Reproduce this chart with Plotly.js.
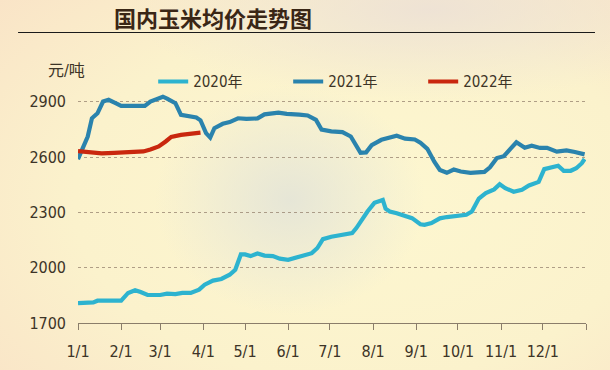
<!DOCTYPE html>
<html>
<head>
<meta charset="utf-8">
<script src="https://cdn.plot.ly/plotly-3.0.1.min.js"></script>
<style>
html,body{margin:0;padding:0;}
body{width:610px;height:370px;overflow:hidden;
background:
 radial-gradient(ellipse 135px 115px at 290px 200px, rgba(226,227,216,0.85) 0%, rgba(226,227,216,0) 100%),
 radial-gradient(ellipse 300px 90px at 430px 10px, rgba(236,224,214,0.85) 0%, rgba(236,224,214,0) 100%),
 radial-gradient(ellipse 520px 330px at 360px 200px, #fdf7d0 0%, #fbf2cc 55%, #f9e1c6 100%);
}
#chart{width:610px;height:370px;}
</style>
</head>
<body>
<div id="chart"></div>
<script>
// ---- data (month-day; all series drawn on a common calendar year) ----
const dates2020 = ['01-01','01-12','01-15','02-01','02-06','02-11','02-15','02-20','03-01','03-06','03-12','03-17','03-23','03-29','04-02','04-08','04-14','04-20','04-24','04-28','05-01','05-05','05-10','05-15','05-21','05-26','06-01','06-06','06-12','06-18','06-22','06-26','07-02','07-07','07-13','07-17','07-20','07-24','07-28','08-02','08-08','08-10','08-13','08-18','08-24','08-29','09-04','09-07','09-12','09-18','09-23','09-30','10-07','10-11','10-16','10-21','10-27','10-31','11-04','11-10','11-16','11-21','11-28','12-02','12-08','12-12','12-16','12-21','12-25','12-29','12-31'];
const values2020 = [1808,1812,1821,1821,1863,1878,1868,1852,1852,1859,1857,1863,1863,1881,1908,1930,1939,1962,1989,2072,2072,2063,2077,2066,2063,2049,2043,2052,2065,2079,2107,2155,2168,2173,2179,2188,2215,2262,2305,2352,2368,2320,2305,2296,2282,2269,2236,2233,2242,2268,2275,2280,2287,2305,2375,2405,2425,2453,2432,2412,2423,2446,2466,2535,2549,2553,2526,2526,2540,2567,2590];

const dates2021 = ['01-01','01-05','01-08','01-11','01-15','01-19','01-23','01-28','02-01','02-10','02-18','02-22','02-26','03-03','03-06','03-12','03-16','03-22','03-27','03-30','04-03','04-06','04-09','04-15','04-20','04-26','05-02','05-10','05-15','05-25','05-31','06-09','06-15','06-21','06-25','07-02','07-10','07-16','07-20','07-23','07-27','07-31','08-07','08-13','08-18','08-24','08-31','09-04','09-09','09-14','09-18','09-23','09-28','10-03','10-10','10-20','10-24','10-29','11-03','11-08','11-12','11-18','11-23','11-29','12-04','12-11','12-18','12-24','12-31'];
const values2021 = [2589,2658,2712,2811,2838,2902,2911,2893,2878,2878,2878,2902,2911,2928,2918,2893,2829,2822,2815,2800,2730,2706,2757,2781,2790,2811,2808,2810,2832,2842,2835,2831,2826,2802,2750,2740,2736,2712,2658,2624,2626,2665,2694,2705,2716,2700,2696,2678,2645,2575,2530,2515,2533,2522,2515,2520,2545,2595,2605,2648,2681,2651,2662,2650,2651,2630,2637,2628,2615];

const dates2022 = ['01-01','01-09','01-18','01-27','02-06','02-17','02-22','02-28','03-05','03-09','03-16','03-22','03-30'];
const values2022 = [2633,2625,2620,2623,2627,2631,2642,2658,2685,2710,2721,2728,2733];

const seriesNames = ['2020年','2021年','2022年'];
const monthTicks = ['01-01','02-01','03-01','04-01','05-01','06-01','07-01','08-01','09-01','10-01','11-01','12-01'];
const monthLabels = ['1/1','2/1','3/1','4/1','5/1','6/1','7/1','8/1','9/1','10/1','11/1','12/1'];
const yTicks = [1700,2000,2300,2600,2900];

const baseYear = '2021-';
const toDate = a => a.map(d => baseYear + d);

const colors = ['#2db3cf','#2a83ad','#c9270e'];
const txtColor = '#3d3427';
const numFont = '"Liberation Sans Narrow","DejaVu Sans Condensed","Noto Sans CJK SC",sans-serif';

const data = [
  {x: toDate(dates2020), y: values2020, name: seriesNames[0]},
  {x: toDate(dates2021), y: values2021, name: seriesNames[1]},
  {x: toDate(dates2022), y: values2022, name: seriesNames[2]}
].map((t,i) => Object.assign(t, {type:'scatter', mode:'lines', line:{color:colors[i], width:4.2}}));

const layout = {
  width: 610, height: 370,
  margin: {l:78, r:24, t:65, b:47},
  paper_bgcolor: 'rgba(0,0,0,0)',
  plot_bgcolor: 'rgba(0,0,0,0)',
  font: {family: numFont, color: txtColor, size: 15},
  title: {
    text: '<b>国内玉米均价走势图</b>',
    font: {family: '"Noto Sans CJK SC",sans-serif', size: 22, color: '#3a2616'},
    x: 0.349, xanchor: 'center', xref: 'container',
    y: 0.948, yanchor: 'middle', yref: 'container'
  },
  xaxis: {
    type: 'date',
    range: ['2021-01-01', '2022-01-01'],
    tickmode: 'array',
    tickvals: toDate(monthTicks).concat(['2022-01-01']),
    ticktext: monthLabels.concat(['']),
    ticks: 'outside', ticklen: 6, tickwidth: 1, tickcolor: '#8a7d6a',
    showline: true, linecolor: '#8a7d6a', linewidth: 1,
    showgrid: false, zeroline: false,
    tickfont: {family: numFont, size: 16, color: txtColor},
    ticklabelstandoff: 8,
    fixedrange: true
  },
  yaxis: {
    range: [1700, 3100],
    tickmode: 'array',
    tickvals: yTicks,
    ticktext: yTicks.map(String),
    showgrid: true, gridcolor: 'rgba(150,130,110,0.75)', gridwidth: 1, griddash: '3px,3px',
    showline: false, zeroline: false, ticks: '',
    tickfont: {family: numFont, size: 16, color: txtColor},
    ticklabelstandoff: 11,
    fixedrange: true
  },
  legend: {
    orientation: 'h',
    x: 0.148, xanchor: 'left',
    y: 0.935, yanchor: 'middle',
    entrywidth: 90, entrywidthmode: 'pixels',
    font: {family: numFont, size: 15, color: txtColor},
    bgcolor: 'rgba(0,0,0,0)',
    traceorder: 'normal'
  },
  showlegend: true,
  annotations: [{
    text: '元/吨', xref: 'paper', yref: 'paper',
    x: -0.0236, y: 0.98, xanchor: 'center', yanchor: 'middle',
    showarrow: false,
    font: {family: numFont, size: 16, color: txtColor}
  }],
  shapes: [{
    type: 'line', xref: 'paper', yref: 'paper',
    x0: -0.118, x1: 1.0177, y0: 1.126, y1: 1.126,
    line: {color: '#1a1a1a', width: 1.2}
  }]
};

Plotly.newPlot('chart', data, layout, {displayModeBar: false, staticPlot: true});
</script>
</body>
</html>
